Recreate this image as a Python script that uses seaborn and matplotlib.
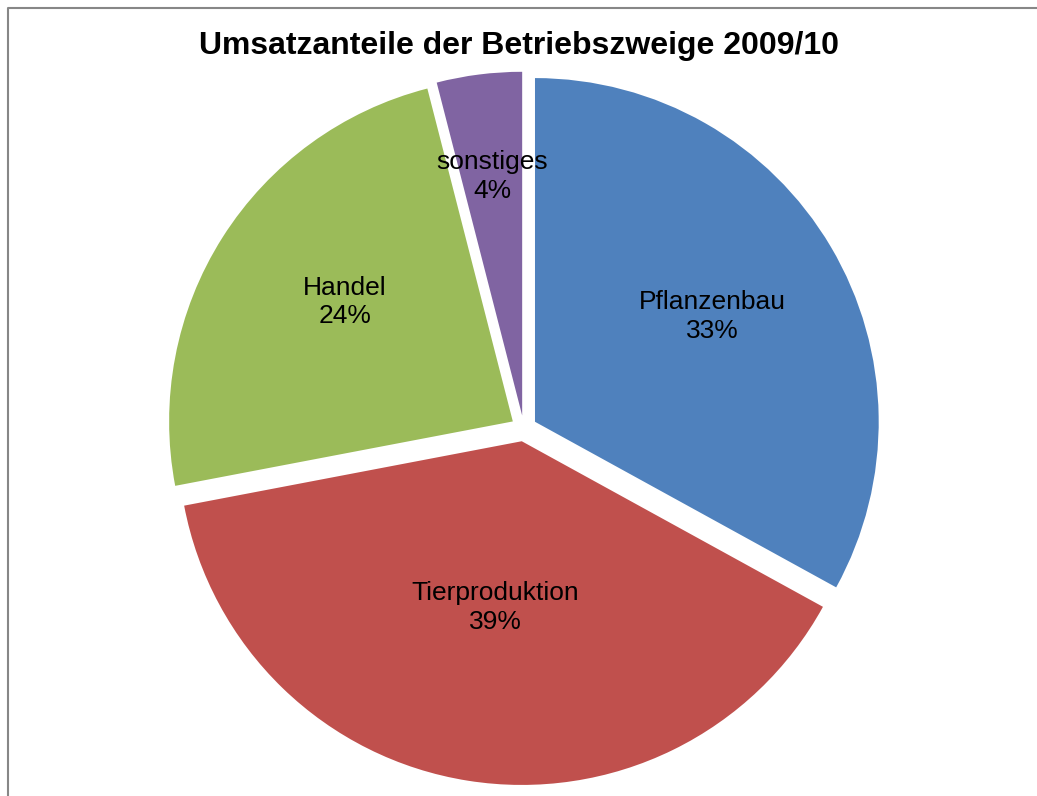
import numpy as np
import matplotlib
matplotlib.use("Agg")
import matplotlib.pyplot as plt
from matplotlib.lines import Line2D
import seaborn as sns

# Data
categories = ["Pflanzenbau", "Tierproduktion", "Handel", "sonstiges"]
shares = [33, 39, 24, 4]
colors = ["#4F81BD", "#C0504D", "#9BBB59", "#8064A2"]
title = "Umsatzanteile der Betriebszweige 2009/10"

sns.set_theme(style="white")
plt.rcParams["font.family"] = ["Liberation Sans", "DejaVu Sans"]

W, H = 1037, 796
fig = plt.figure(figsize=(W / 100, H / 100), dpi=100)
ax = fig.add_axes([0, 0, 1, 1])

center = (523.8, H - 428.4)
radius = 343.7
gap = 13.0  # explode offset in axis (pixel) units
wedges, _ = ax.pie(
    shares,
    colors=colors,
    startangle=90,
    counterclock=False,
    explode=[gap] * len(shares),
    radius=radius,
    center=center,
    frame=True,
    wedgeprops=dict(linewidth=0),
)
ax.set_xlim(0, W)
ax.set_ylim(0, H)
ax.set_aspect("auto")
ax.axis("off")

# Labels inside slices
label_dist = [0.60, 0.49, 0.60, 0.70]
label_rot = [0.0, 0.0, -3.0, 0.0]  # small angular nudge (degrees)
total = sum(shares)
for w, name, val, d, dr in zip(wedges, categories, shares, label_dist, label_rot):
    ang = np.deg2rad((w.theta1 + w.theta2) / 2 + dr)
    x = w.center[0] + d * w.r * np.cos(ang)
    y = w.center[1] + d * w.r * np.sin(ang)
    ax.text(x, y, f"{name}\n{round(100 * val / total)}%", ha="center", va="center",
            multialignment="center", fontsize=19, color="black", linespacing=1.25)

fig.text(519 / W, 1 - 46 / H, title, ha="center", va="center",
         fontsize=23, fontweight="bold", color="black")

# chart border (only top/left visible)
fig.add_artist(Line2D([7.5 / W, 7.5 / W, 1.01], [-0.01, 1 - 7.5 / H, 1 - 7.5 / H],
                      transform=fig.transFigure, color="#878787", linewidth=1.5))

fig.savefig("out.png", dpi=100, facecolor="white")
